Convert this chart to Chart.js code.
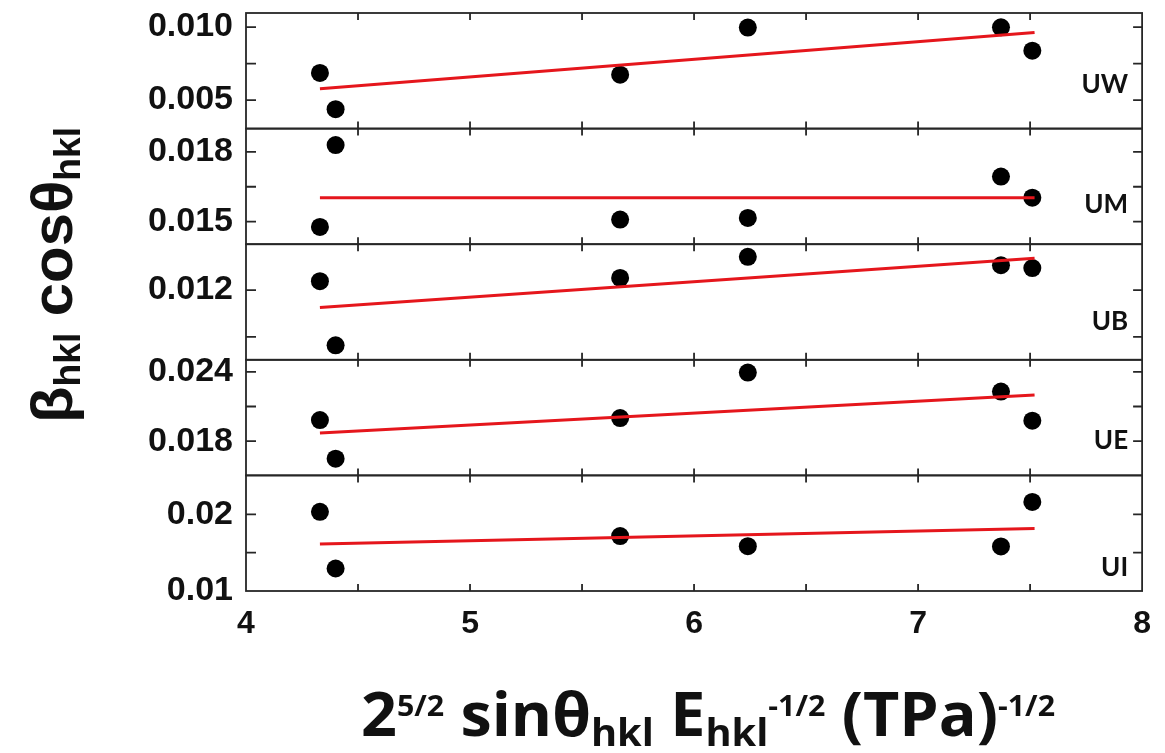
<!DOCTYPE html>
<html>
<head>
<meta charset="utf-8">
<script src="https://cdn.jsdelivr.net/npm/chart.js@4.4.1/dist/chart.umd.min.js"></script>
<style>
  html, body { margin: 0; padding: 0; background: #fff; }
  #wrap { width: 1165px; height: 753px; }
</style>
</head>
<body>
<div id="wrap"><canvas id="chart" width="1165" height="753"></canvas></div>
<script>
// x positions of the reflections (same in every panel)
const xHkl = [4.33, 4.40, 5.67, 6.24, 7.37, 7.51];
const fitX = [4.33, 7.52];

const panelNames = ['UW', 'UM', 'UB', 'UE', 'UI'];

// beta*cos(theta), top to bottom
const uwY = [0.00686, 0.00438, 0.00674, 0.00996, 0.00998, 0.00838];
const umY = [0.01477, 0.01829, 0.01509, 0.01516, 0.01694, 0.01603];
const ubY = [0.01219, 0.01082, 0.01226, 0.01271, 0.01253, 0.01247];
const ueY = [0.01983, 0.01649, 0.02000, 0.02394, 0.02229, 0.01977];
const uiY = [0.02035, 0.01294, 0.01717, 0.01586, 0.01582, 0.02164];

// end points of the red fit lines
const uwFit = [0.00578, 0.00962];
const umFit = [0.01603, 0.01603];
const ubFit = [0.01163, 0.01268];
const ueFit = [0.01870, 0.02200];
const uiFit = [0.01615, 0.01818];

// y axis ranges and ticks per panel
const uwRange = [0.00305, 0.01096];
const umRange = [0.01403, 0.01900];
const ubRange = [0.01051, 0.01298];
const ueRange = [0.01504, 0.02504];
const uiRange = [0.0100, 0.0251];

const uwTicks = [0.005, 0.0075, 0.010];
const uwTickLabels = ['0.005', '', '0.010'];
const umTicks = [0.015, 0.0165, 0.018];
const umTickLabels = ['0.015', '', '0.018'];
const ubTicks = [0.011, 0.012];
const ubTickLabels = ['', '0.012'];
const ueTicks = [0.018, 0.021, 0.024];
const ueTickLabels = ['0.018', '', '0.024'];
const uiTicks = [0.010, 0.015, 0.020];
const uiTickLabels = ['0.01', '', '0.02'];

const xTicks = [4, 4.5, 5, 5.5, 6, 6.5, 7, 7.5, 8];
const xTickLabels = ['4', '', '5', '', '6', '', '7', '', '8'];

const panelY = [uwY, umY, ubY, ueY, uiY];
const panelFit = [uwFit, umFit, ubFit, ueFit, uiFit];
const panelRange = [uwRange, umRange, ubRange, ueRange, uiRange];
const panelTicks = [uwTicks, umTicks, ubTicks, ueTicks, uiTicks];
const panelTickLabels = [uwTickLabels, umTickLabels, ubTickLabels, ueTickLabels, uiTickLabels];

const tickFont = { family: '"Liberation Sans", Arial, sans-serif', size: 34, weight: 'bold' };
const frameColor = '#262626';
const fitRed = '#e5161c';

const datasets = [];
const scales = {
  x: {
    type: 'linear',
    position: 'bottom',
    min: 4,
    max: 8,
    afterBuildTicks: s => { s.ticks = xTicks.map(v => ({ value: v })); },
    afterFit: s => { s.height = 162; },
    grid: { display: false, drawTicks: false },
    border: { display: false },
    ticks: {
      autoSkip: false,
      maxRotation: 0,
      padding: 14,
      color: '#111',
      font: { family: tickFont.family, size: 32, weight: 'bold' },
      callback: (v, i) => xTickLabels[i]
    }
  }
};

// stacked left axes are laid out last-defined on top, so add UI first
for (let i = panelNames.length - 1; i >= 0; i--) {
  const id = 'y' + i;
  scales[id] = {
    type: 'linear',
    position: 'left',
    stack: 'panels',
    stackWeight: 1,
    min: panelRange[i][0],
    max: panelRange[i][1],
    afterBuildTicks: s => { s.ticks = panelTicks[i].map(v => ({ value: v })); },
    afterFit: s => { s.width = 246; s.paddingTop = 0; s.paddingBottom = 0; },
    grid: { display: false, drawTicks: false },
    border: { display: false },
    ticks: {
      autoSkip: false,
      padding: 13,
      color: '#111',
      font: tickFont,
      callback: (v, j) => panelTickLabels[i][j]
    }
  };
}

panelNames.forEach((name, i) => {
  const id = 'y' + i;
  // fit line has the lower order so it is painted over the dots
  datasets.push({
    type: 'line',
    label: name + ' fit',
    data: fitX.map((x, j) => ({ x: x, y: panelFit[i][j] })),
    yAxisID: id,
    xAxisID: 'x',
    borderColor: fitRed,
    borderWidth: 3,
    pointRadius: 0,
    fill: false,
    order: 0
  });
  datasets.push({
    type: 'scatter',
    label: name,
    data: xHkl.map((x, j) => ({ x: x, y: panelY[i][j] })),
    yAxisID: id,
    xAxisID: 'x',
    backgroundColor: '#000',
    borderWidth: 0,
    pointRadius: 9,
    pointHoverRadius: 9,
    order: 1
  });
});

// draws a run of text pieces with sub/superscripts, squeezed to a given length
function drawRich(ctx, parts, x0, y0, length) {
  let total = 0;
  parts.forEach(p => {
    ctx.font = p.font;
    p.w = ctx.measureText(p.t).width;
    total += p.w;
  });
  const sx = length / total;
  ctx.save();
  ctx.translate(x0, y0);
  ctx.scale(sx, 1);
  let x = 0;
  parts.forEach(p => {
    ctx.font = p.font;
    ctx.fillText(p.t, x, p.dy || 0);
    x += p.w;
  });
  ctx.restore();
}

const framePlugin = {
  id: 'panelFrames',
  beforeDatasetsDraw(chart) {
    const ctx = chart.ctx;
    const area = chart.chartArea;
    const xs = chart.scales.x;
    ctx.save();
    ctx.strokeStyle = frameColor;
    ctx.lineWidth = 1.8;
    panelNames.forEach((name, i) => {
      const s = chart.scales['y' + i];
      const top = s.top, bottom = s.bottom;
      ctx.strokeRect(area.left, top, area.right - area.left, bottom - top);
      ctx.beginPath();
      s.ticks.forEach(t => {
        const y = s.getPixelForValue(t.value);
        if (y <= top + 2 || y >= bottom - 2) return;
        ctx.moveTo(area.left, y); ctx.lineTo(area.left + 10, y);
        ctx.moveTo(area.right, y); ctx.lineTo(area.right - 9, y);
      });
      xs.ticks.forEach(t => {
        const x = xs.getPixelForValue(t.value);
        if (x <= area.left + 2 || x >= area.right - 2) return;
        ctx.moveTo(x, top); ctx.lineTo(x, top + 7);
        ctx.moveTo(x, bottom); ctx.lineTo(x, bottom - 7);
      });
      ctx.stroke();
    });
    ctx.restore();
  },
  afterDraw(chart) {
    const ctx = chart.ctx;
    const area = chart.chartArea;
    ctx.save();
    ctx.fillStyle = '#111';
    ctx.textBaseline = 'alphabetic';

    // panel names at the right of each panel
    const labelDrop = [80, 84, 86, 89, 101];
    ctx.textAlign = 'right';
    ctx.font = 'bold 26px Lato, "Open Sans", sans-serif';
    panelNames.forEach((name, i) => {
      const s = chart.scales['y' + i];
      ctx.fillText(name, area.right - 14, s.top + labelDrop[i]);
    });

    // x axis title
    ctx.textAlign = 'left';
    const big = 'bold 60px "Open Sans", sans-serif';
    const sup = 'bold 29px "Open Sans", sans-serif';
    const sub = 'bold 38px "Open Sans", sans-serif';
    drawRich(ctx, [
      { t: '2', font: big },
      { t: '5/2', font: sup, dy: -20 },
      { t: ' sinθ', font: big },
      { t: 'hkl', font: sub, dy: 10 },
      { t: ' E', font: big },
      { t: 'hkl', font: sub, dy: 10 },
      { t: '-1/2', font: sup, dy: -20 },
      { t: ' (TPa)', font: big },
      { t: '-1/2', font: sup, dy: -20 }
    ], 361, 736, 694);

    // y axis title, rotated
    ctx.save();
    ctx.translate(72, 423);
    ctx.rotate(-Math.PI / 2);
    const ybig = 'bold 58px "Liberation Sans", Arial, sans-serif';
    const ysub = 'bold 36px "Liberation Sans", Arial, sans-serif';
    drawRich(ctx, [
      { t: 'β', font: ybig },
      { t: 'hkl', font: ysub, dy: 8 },
      { t: ' cos', font: ybig },
      { t: 'θ', font: ybig },
      { t: 'hkl', font: ysub, dy: 8 }
    ], 0, 0, 296);
    ctx.restore();

    ctx.restore();
  }
};

new Chart(document.getElementById('chart').getContext('2d'), {
  data: { datasets: datasets },
  options: {
    responsive: false,
    animation: false,
    layout: { padding: { left: 0, right: 16, top: 13, bottom: 0 } },
    plugins: {
      legend: { display: false },
      tooltip: { enabled: false }
    },
    scales: scales
  },
  plugins: [framePlugin]
});
</script>
</body>
</html>
